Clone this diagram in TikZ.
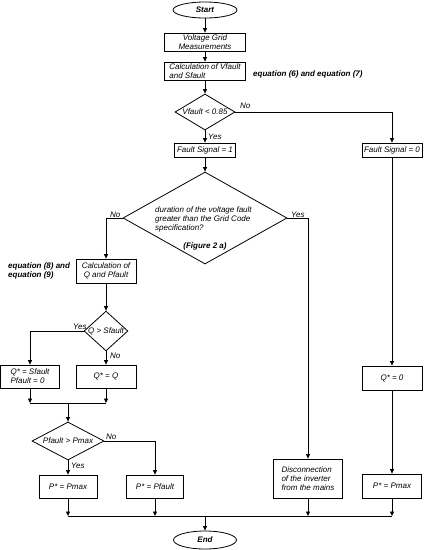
\documentclass[tikz,border=0pt]{standalone}
\usepackage{fontspec}
\setmainfont{Liberation Sans}
\usetikzlibrary{shapes.geometric,arrows.meta}
\tikzset{
  box/.style={draw, line width=0.8pt, inner sep=1pt, align=center, font=\fontsize{8}{9}\selectfont\itshape},
  dec/.style={draw, diamond, line width=0.8pt, inner sep=0pt, font=\fontsize{8}{9}\selectfont\itshape},
  term/.style={draw, ellipse, line width=0.8pt, inner sep=0pt, font=\fontsize{8}{9}\selectfont\bfseries\itshape},
  lbl/.style={inner sep=0pt, anchor=west, font=\fontsize{8}{9}\selectfont\itshape},
  note/.style={inner sep=0pt, anchor=west, align=left, font=\fontsize{8}{9}\selectfont\bfseries\itshape},
  arr/.style={-{Triangle[length=4.5pt,width=4pt]}, line width=0.7pt},
  ln/.style={line width=0.7pt}
}
\begin{document}
\begin{tikzpicture}[x=1pt, y=-1pt]
    \useasboundingbox (0,0) rectangle (424,550);
    \node[term, minimum width=64pt, minimum height=16pt] (start) at (205,10) {Start};
    \node[box, minimum width=81pt, minimum height=18pt] (meas) at (205,42) {Voltage Grid\\Measurements};
    \node[box, align=left, minimum width=81pt, minimum height=18pt] (calcv) at (205,71) {Calculation of Vfault\\and Sfault};
    \node[note] (eqa) at (253,74) {equation (6) and equation (7)};
    \node[dec, aspect=1.67, minimum width=60pt, minimum height=36pt] (vchk) at (205,112) {Vfault < 0.85};
    \node[box, minimum width=61pt, minimum height=14pt] (fsone) at (205,150) {Fault Signal = 1};
    \node[box, minimum width=60pt, minimum height=14pt] (fszero) at (392,150) {Fault Signal = 0};
    \node[dec, minimum width=164pt, minimum height=92pt] (dur) at (205,218) {};
    \node[lbl, align=left] (durtxt) at (155,219) {duration of the voltage fault\\greater than the Grid Code\\specification?};
    \node[note, anchor=center] (fig) at (205,246) {(Figure 2 a)};
    \node[box, minimum width=60pt, minimum height=24pt] (calcq) at (106,271) {Calculation of\\Q and Pfault};
    \node[note] (eqb) at (8,270.5) {equation (8) and\\equation (9)};
    \node[dec, aspect=1.1, minimum width=42pt, minimum height=38pt] (qchk) at (106,331) {Q > Sfault};
    \node[box, align=left, minimum width=59pt, minimum height=23pt] (qsf) at (30,376.5) {Q* = Sfault\\Pfault = 0};
    \node[box, minimum width=60pt, minimum height=23pt] (qeq) at (106,376.5) {Q* = Q};
    \coordinate (jq) at (68,403);
    \node[dec, aspect=1.9, minimum width=72pt, minimum height=38pt] (pchk) at (68,441) {Pfault > Pmax};
    \node[box, minimum width=58pt, minimum height=23pt] (pmaxa) at (68,486.5) {P* = Pmax};
    \node[box, minimum width=57pt, minimum height=23pt] (pflt) at (155,486.5) {P* = Pfault};
    \node[box, align=left, minimum width=69pt, minimum height=39pt] (disc) at (308,478.5) {Disconnection\\of the inverter\\from the mains};
    \node[box, minimum width=60pt, minimum height=24pt] (qzero) at (392,378) {Q* = 0};
    \node[box, minimum width=59pt, minimum height=24pt] (pmaxb) at (392,486) {P* = Pmax};
    \coordinate (jp) at (205,516);
    \node[term, minimum width=63pt, minimum height=18pt] (end) at (205,540) {End};

    \node[lbl] (noa) at (240,105.5) {No};
    \node[lbl] (yesa) at (208,136.5) {Yes};
    \node[lbl] (nob) at (110,214.5) {No};
    \node[lbl] (yesb) at (291,214.5) {Yes};
    \node[lbl] (yesc) at (73,326.5) {Yes};
    \node[lbl] (noc) at (110,355.5) {No};
    \node[lbl] (nod) at (106,436.5) {No};
    \node[lbl] (yesd) at (71,466) {Yes};

    \draw[arr] (start.south) -- (meas.north);
    \draw[arr] (meas.south) -- (calcv.north);
    \draw[arr] (calcv.south) -- (vchk.north);
    \draw[arr] (vchk.south) -- (fsone.north);
    \draw[arr] (vchk.east) -| (fszero.north);
    \draw[arr] (fsone.south) -- (dur.north);
    \draw[arr] (fszero.south) -- (qzero.north);
    \draw[arr] (qzero.south) -- (pmaxb.north);
    \draw[arr] (dur.west) -| (calcq.north);
    \draw[arr] (dur.east) -| (disc.north);
    \draw[arr] (calcq.south) -- (qchk.north);
    \draw[arr] (qchk.west) -| (qsf.north);
    \draw[arr] (qchk.south) -- (qeq.north);
    \draw[arr] (qsf.south) -- (qsf.south |- jq);
    \draw[arr] (qeq.south) -- (qeq.south |- jq);
    \draw[ln] (qsf.south |- jq) -- (qeq.south |- jq);
    \draw[arr] (jq) -- (pchk.north);
    \draw[arr] (pchk.south) -- (pmaxa.north);
    \draw[arr] (pchk.east) -| (pflt.north);
    \foreach \b in {pmaxa,pflt,disc,pmaxb}
        \draw[arr] (\b.south) -- (\b.south |- jp);
    \draw[ln] (pmaxa.south |- jp) -- (pmaxb.south |- jp);
    \draw[arr] (jp) -- (end.north);
\end{tikzpicture}
\end{document}
